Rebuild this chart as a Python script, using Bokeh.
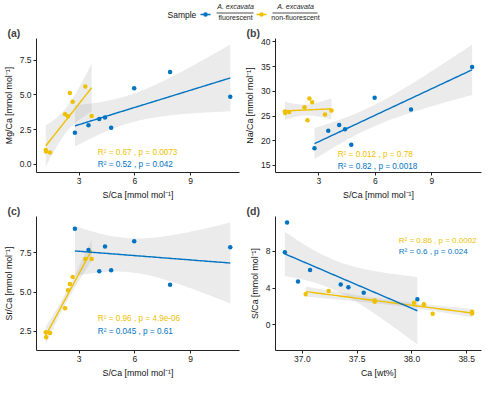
import numpy as np
from bokeh.plotting import figure
from bokeh.layouts import column, row
from bokeh.models import Range1d, FixedTicker, Label
from bokeh.embed import file_html
from bokeh.resources import INLINE
from bokeh.core.properties import value

BLUE = "#0073C2"
YELLOW = "#EFC000"
FONT = "Liberation Sans"

# ---- data: A. excavata fluorescent (blue) ----
fl_sca = [2.77, 3.50, 4.08, 4.39, 4.72, 5.96, 7.89, 11.13]
fl_mgca = [2.26, 2.80, 3.26, 3.37, 2.63, 5.48, 6.67, 4.87]
fl_naca = [18.5, 22.0, 23.2, 22.3, 19.2, 28.7, 26.3, 34.9]
fl_srca = [9.04, 7.69, 6.33, 7.92, 6.40, 8.25, 5.48, 7.87]
fl_ca = [38.05, 37.56, 37.42, 37.35, 36.96, 37.07, 36.84, 36.86]

# ---- data: A. excavata non-fluorescent (yellow) ----
nf_sca = [1.20, 1.22, 1.43, 2.24, 2.40, 2.50, 2.65, 3.33, 3.67]
nf_mgca = [1.02, 0.91, 0.83, 3.61, 3.46, 5.15, 4.50, 5.61, 3.48]
nf_naca = [25.9, 25.6, 25.8, 26.75, 24.15, 28.56, 27.8, 25.3, 26.1]
nf_srca = [2.44, 2.13, 2.40, 3.98, 5.12, 5.52, 5.96, 7.12, 7.12]
nf_ca = [38.19, 38.55, 38.55, 38.11, 38.02, 37.66, 37.66, 37.03, 37.24]

# ---- stat labels ----
lab_a = ["R² = 0.67 , p = 0.0073", "R² = 0.52 , p = 0.042"]
lab_b = ["R² = 0.012 , p = 0.78", "R² = 0.82 , p = 0.0018"]
lab_c = ["R² = 0.96 , p = 4.9e-06", "R² = 0.045 , p = 0.61"]
lab_d = ["R² = 0.86 , p = 0.0002", "R² = 0.6 , p = 0.024"]

# ---- tick labels ----
sca_ticks = [3, 6, 9]
sca_tick_labels = ["3", "6", "9"]
mg_ticks = [0, 2.5, 5, 7.5]
mg_tick_labels = ["0.0", "2.5", "5.0", "7.5"]
na_ticks = [15, 20, 25, 30, 35, 40]
na_tick_labels = ["15", "20", "25", "30", "35", "40"]
sr_ticks = [2.5, 5, 7.5]
sr_tick_labels = ["2.5", "5.0", "7.5"]
ca_ticks = [37.0, 37.5, 38.0, 38.5]
ca_tick_labels = ["37.0", "37.5", "38.0", "38.5"]
s_ticks = [0, 4, 8]
s_tick_labels = ["0", "4", "8"]

T975 = {1: 12.706, 2: 4.303, 3: 3.182, 4: 2.776, 5: 2.571, 6: 2.447,
        7: 2.365, 8: 2.306, 9: 2.262, 10: 2.228, 11: 2.201, 12: 2.179}


def fit(xs, ys, n_grid=80):
    x = np.asarray(xs, float)
    y = np.asarray(ys, float)
    n = len(x)
    b, a = np.polyfit(x, y, 1)
    res = y - (a + b * x)
    s = np.sqrt(np.sum(res ** 2) / (n - 2))
    sxx = np.sum((x - x.mean()) ** 2)
    g = np.linspace(x.min(), x.max(), n_grid)
    f = a + b * g
    se = s * np.sqrt(1.0 / n + (g - x.mean()) ** 2 / sxx)
    t = T975[n - 2]
    return g, f, f - t * se, f + t * se


def panel(tag, xb, yb, xy, yy, xlabel, ylabel, xt, xtl, yt, ytl, labx, laby, labels,
          lab_fs="8.2px"):
    fb = fit(xb, yb)
    fy = fit(xy, yy)
    xs_all = list(xb) + list(xy) + [labx]
    ys_all = (list(yb) + list(yy) + list(fb[2]) + list(fb[3]) + list(fy[2]) + list(fy[3])
              + list(laby))
    x0, x1 = min(xs_all), max(xs_all)
    y0, y1 = min(ys_all), max(ys_all)
    px = 0.05 * (x1 - x0)
    py = 0.05 * (y1 - y0)
    p = figure(width=242, height=178, output_backend="svg", toolbar_location=None,
               x_range=Range1d(x0 - px, x1 + px), y_range=Range1d(y0 - py, y1 + py),
               title=tag, min_border_left=33, min_border_right=3,
               min_border_top=4, min_border_bottom=24)
    p.grid.visible = False
    p.outline_line_color = None
    p.background_fill_color = "white"
    p.border_fill_color = "white"
    p.title.text_font = FONT
    p.title.text_font_size = "10.5px"
    p.title.text_font_style = "bold"
    p.title.align = "left"
    p.title.offset = -29
    p.title.standoff = 0
    for f in (fy, fb):
        p.varea(x=f[0], y1=f[2], y2=f[3], fill_color="#999999", fill_alpha=0.2)
    p.line(fy[0], fy[1], line_color=YELLOW, line_width=1.4)
    p.line(fb[0], fb[1], line_color=BLUE, line_width=1.4)
    p.scatter(xy, yy, size=4.5, fill_color=YELLOW, line_color=None)
    p.scatter(xb, yb, size=4.5, fill_color=BLUE, line_color=None)
    p.xaxis.ticker = FixedTicker(ticks=xt)
    p.xaxis.major_label_overrides = {k: v for k, v in zip(xt, xtl)}
    p.yaxis.ticker = FixedTicker(ticks=yt)
    p.yaxis.major_label_overrides = {k: v for k, v in zip(yt, ytl)}
    p.xaxis.axis_label = xlabel
    p.yaxis.axis_label = ylabel
    for ax in (p.xaxis, p.yaxis):
        ax.axis_line_color = "#222222"
        ax.axis_line_width = 1
        ax.major_tick_line_color = "#222222"
        ax.major_tick_in = 0
        ax.major_tick_out = 3
        ax.minor_tick_line_color = None
        ax.major_label_text_font = FONT
        ax.major_label_text_font_size = "8.5px"
        ax.major_label_text_color = "#222222"
        ax.major_label_standoff = 2
        ax.axis_label_text_font = FONT
        ax.axis_label_text_font_size = "8.8px"
        ax.axis_label_text_font_style = "normal"
        ax.axis_label_text_color = "#111111"
        ax.axis_label_standoff = 3
    for lbl, yv, col in zip(labels, laby, (YELLOW, BLUE)):
        p.add_layout(Label(x=labx, y=yv, text=lbl, text_color=col,
                           text_font=FONT, text_font_size=lab_fs,
                           text_baseline="middle", text_align="left"))
    return p


S_LABEL = "S/Ca [mmol mol⁻¹]"
pa = panel("(a)", fl_sca, fl_mgca, nf_sca, nf_mgca, S_LABEL, "Mg/Ca [mmol mol⁻¹]",
           sca_ticks, sca_tick_labels, mg_ticks, mg_tick_labels, 4.0, [0.85, 0.0], lab_a)
pb = panel("(b)", fl_sca, fl_naca, nf_sca, nf_naca, S_LABEL, "Na/Ca [mmol mol⁻¹]",
           sca_ticks, sca_tick_labels, na_ticks, na_tick_labels, 4.0, [17.3, 14.8], lab_b)
pc = panel("(c)", fl_sca, fl_srca, nf_sca, nf_srca, S_LABEL, "Sr/Ca [mmol mol⁻¹]",
           sca_ticks, sca_tick_labels, sr_ticks, sr_tick_labels, 4.0, [3.3, 2.5], lab_c)
pd = panel("(d)", fl_ca, fl_sca, nf_ca, nf_sca, "Ca [wt%]", "S/Ca [mmol mol⁻¹]",
           ca_ticks, ca_tick_labels, s_ticks, s_tick_labels, 37.88, [9.17, 7.94], lab_d,
           lab_fs="8px")

# ---- legend strip ----
leg = figure(width=484, height=24, output_backend="svg", toolbar_location=None,
             x_range=Range1d(0, 484), y_range=Range1d(0, 24),
             min_border=0)
leg.axis.visible = False
leg.grid.visible = False
leg.outline_line_color = None
leg.text(x=[167], y=[10], text=["Sample"], text_font=value(FONT), text_font_size="8.5px",
         text_baseline="middle", text_align="left", text_color="#111111")
for kx, col, cx, top, bot, bx0, bx1 in (
        (205, BLUE, 235, "A. excavata", "fluorescent", 216, 253),
        (261, YELLOW, 295, "A. excavata", "non-fluorescent", 272, 317)):
    leg.line([kx - 5, kx + 5], [10, 10], line_color=col, line_width=1.4)
    leg.scatter([kx], [10], size=4.5, fill_color=col, line_color=None)
    leg.text(x=[cx], y=[18], text=[top], text_font=value(FONT), text_font_size="7px",
             text_font_style="italic", text_baseline="middle", text_align="center",
             text_color="#222222")
    leg.line([bx0, bx1], [11.5, 11.5], line_color="#222222", line_width=0.8)
    leg.text(x=[cx], y=[7], text=[bot], text_font=value(FONT), text_font_size="7px",
             text_baseline="middle", text_align="center", text_color="#222222")

layout = column(leg, row(pa, pb), row(pc, pd))
open("out.html", "w").write(file_html(layout, INLINE))
